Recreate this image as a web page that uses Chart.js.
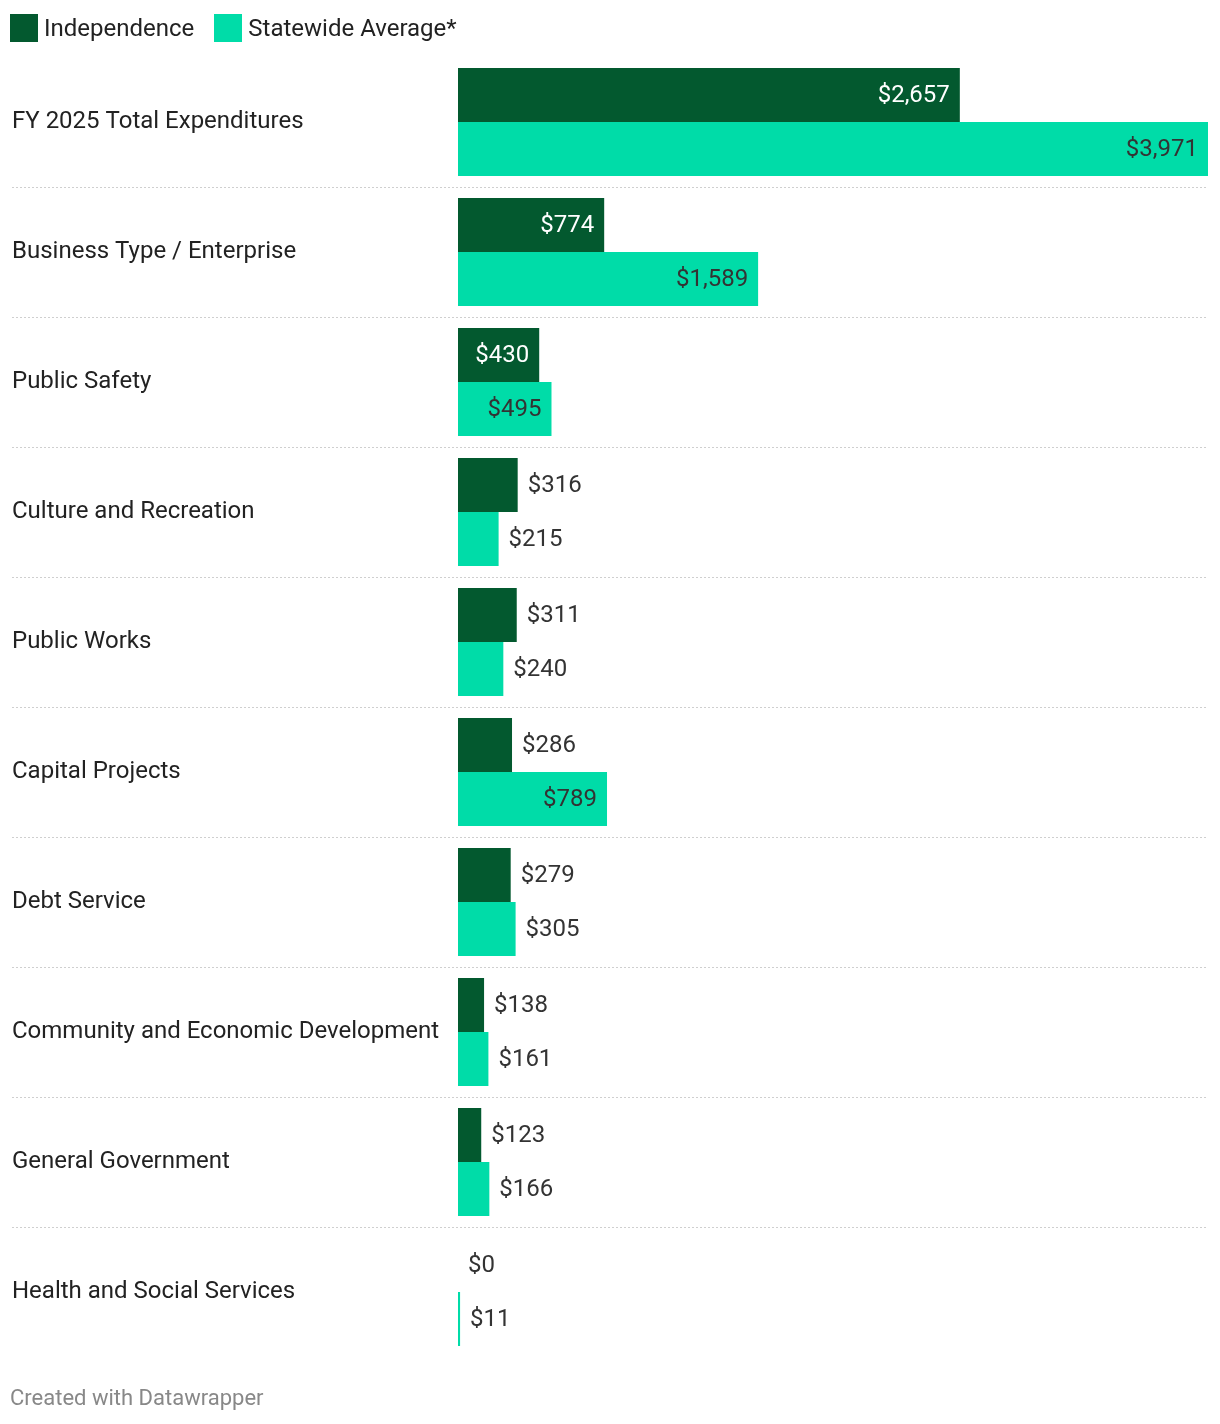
<!DOCTYPE html>
<html>
<head>
<meta charset="utf-8">
<script src="https://cdn.jsdelivr.net/npm/chart.js@4.4.1/dist/chart.umd.min.js"></script>
<style>
  body { margin: 0; background: #fff; font-family: Roboto, sans-serif; }
  #wrap { position: relative; width: 1220px; height: 1424px; }
  #chart { position: absolute; left: 0; top: 0; }
  .legend { position: absolute; top: 14px; left: 10px; display: flex; align-items: center; font-size: 24px; line-height: 28px; color: #222; }
  .legend span.box { display: inline-block; width: 28px; height: 28px; margin-right: 6px; }
  .legend span.item { display: flex; align-items: center; margin-right: 20px; }
  .footer { position: absolute; left: 10px; top: 1385px; font-size: 22px; color: #888; }
</style>
</head>
<body>
<div id="wrap">
  <canvas id="chart" width="1220" height="1424"></canvas>
  <div class="legend">
    <span class="item"><span class="box" style="background:#03592f"></span>Independence</span>
    <span class="item"><span class="box" style="background:#00dca8"></span>Statewide Average*</span>
  </div>
  <div class="footer">Created with Datawrapper</div>
</div>
<script>
// datos
const categories = [
  'FY 2025 Total Expenditures',
  'Business Type / Enterprise',
  'Public Safety',
  'Culture and Recreation',
  'Public Works',
  'Capital Projects',
  'Debt Service',
  'Community and Economic Development',
  'General Government',
  'Health and Social Services'
];
const independence = [2657, 774, 430, 316, 311, 286, 279, 138, 123, 0];
const statewide = [3971, 1589, 495, 215, 240, 789, 305, 161, 166, 11];

const darkGreen = '#03592f';
const lightGreen = '#00dca8';

const fmt = v => '$' + v.toLocaleString('en-US');

// lineas punteadas entre categorias
const separators = {
  id: 'separators',
  beforeDatasetsDraw(chart) {
    const { ctx, scales: { y } } = chart;
    ctx.save();
    ctx.strokeStyle = '#cfcfcf';
    ctx.lineWidth = 1;
    ctx.setLineDash([2, 2]);
    for (let i = 0; i < categories.length - 1; i++) {
      const yy = Math.round((y.getPixelForValue(i) + y.getPixelForValue(i + 1)) / 2) + 0.5;
      ctx.beginPath();
      ctx.moveTo(12, yy);
      ctx.lineTo(chart.chartArea.right, yy);
      ctx.stroke();
    }
    ctx.restore();
  }
};

// etiquetas de valor dentro o fuera de la barra
const valueLabels = {
  id: 'valueLabels',
  afterDatasetsDraw(chart) {
    const { ctx } = chart;
    ctx.save();
    ctx.font = '24px Roboto';
    ctx.textBaseline = 'middle';
    chart.data.datasets.forEach((ds, di) => {
      const meta = chart.getDatasetMeta(di);
      meta.data.forEach((bar, i) => {
        const txt = fmt(ds.data[i]);
        const w = ctx.measureText(txt).width;
        const barW = bar.x - bar.base;
        if (barW >= w + 20) {
          ctx.textAlign = 'right';
          ctx.fillStyle = di === 0 ? '#ffffff' : '#333333';
          ctx.fillText(txt, bar.x - 10, bar.y + 1);
        } else {
          ctx.textAlign = 'left';
          ctx.fillStyle = '#333333';
          ctx.fillText(txt, bar.x + 10, bar.y + 1);
        }
      });
    });
    ctx.restore();
  }
};

const ctx = document.getElementById('chart').getContext('2d');
const chart = new Chart(ctx, {
  type: 'bar',
  data: {
    labels: categories,
    datasets: [
      { label: 'Independence', data: independence, backgroundColor: darkGreen },
      { label: 'Statewide Average*', data: statewide, backgroundColor: lightGreen }
    ]
  },
  options: {
    indexAxis: 'y',
    responsive: false,
    animation: false,
    events: [],
    layout: { padding: { left: 12, right: 12, top: 57, bottom: 67 } },
    datasets: { bar: { categoryPercentage: 108 / 130, barPercentage: 1 } },
    plugins: { legend: { display: false }, tooltip: { enabled: false } },
    scales: {
      x: { display: false, min: 0, max: 3971 },
      y: {
        grid: { display: false },
        border: { display: false },
        ticks: {
          crossAlign: 'far',
          color: '#222',
          font: { family: 'Roboto', size: 24 },
          padding: 0
        },
        afterFit(scale) { scale.width = 446; }
      }
    }
  },
  plugins: [separators, valueLabels]
});
</script>
</body>
</html>
